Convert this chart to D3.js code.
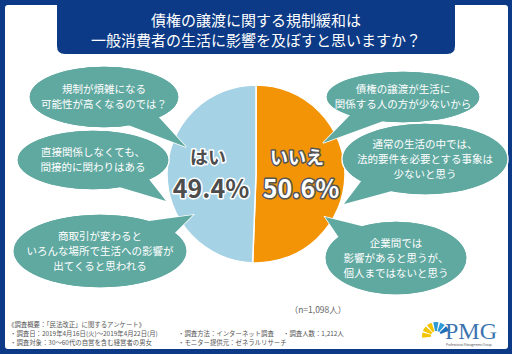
<!DOCTYPE html>
<html lang="ja">
<head>
<meta charset="UTF-8">
<title>pie</title>
<script src="https://cdn.jsdelivr.net/npm/d3@7"></script>
<style>
  body { margin: 0; background: #fff; }
  text { font-family: "Noto Sans CJK JP", "Noto Sans", sans-serif; }
</style>
</head>
<body>
<svg width="512" height="354"></svg>
<script>
    // データ
    var categories = ["はい", "いいえ"];
    var values = [49.4, 50.6];
    var colors = ["#a5d2e5", "#f39406"];

    var titleLines = ["債権の譲渡に関する規制緩和は", "一般消費者の生活に影響を及ぼすと思いますか？"];

    // 吹き出し (左: はい, 右: いいえ)
    var leftComments = [
        ["規制が煩雑になる", "可能性が高くなるのでは？"],
        ["直接関係しなくても、", "間接的に関わりはある"],
        ["商取引が変わると", "いろんな場所で生活への影響が", "出てくると思われる"]
    ];
    var rightComments = [
        ["債権の譲渡が生活に", "関係する人の方が少ないから"],
        ["通常の生活の中では、", "法的要件を必要とする事象は", "少ないと思う"],
        ["企業間では", "影響があると思うが、", "個人まではないと思う"]
    ];

    var sampleNote = "（n=1,098人）";
    var footerLines = [
        [["《調査概要：「民法改正」に関するアンケート》", 8]],
        [["・調査日：2019年4月16日(火)～2019年4月22日(月)", 10], ["・調査方法：インターネット調査", 178], ["・調査人数：1,212人", 283]],
        [["・調査対象：30～60代の自営を含む経営者の男女", 10], ["・モニター提供元：ゼネラルリサーチ", 178]]
    ];

    var navy = "#0c3a86";
    var teal = "#5fa9a1";

    var svg = d3.select("svg");
    var width = +svg.attr("width");
    var height = +svg.attr("height");

    // 枠
    svg.append("rect").attr("width", width).attr("height", height).attr("fill", navy);
    svg.append("rect").attr("x", 5).attr("y", 5).attr("width", width - 9).attr("height", height - 10)
        .attr("rx", 3).attr("fill", "#fff");

    // タイトル
    svg.append("path")
        .attr("d", "M57,0 H455 V46 Q455,54 447,54 H65 Q57,54 57,46 Z")
        .attr("fill", navy);
    svg.selectAll(".title").data(titleLines).enter().append("text")
        .attr("x", 256).attr("y", function (d, i) { return 26 + i * 20; })
        .attr("text-anchor", "middle").attr("fill", "#fff")
        .attr("font-size", 15)
        .text(function (d) { return d; });

    // 円グラフ
    var cx = 256, cy = 174, r = 89;
    var pie = d3.pie().sort(null).value(function (d) { return d; })
        .startAngle(0).endAngle(2 * Math.PI);
    // いいえを時計回りに先に描く
    var arcs = pie([values[1], values[0]]);
    var arc = d3.arc().innerRadius(0).outerRadius(r);
    var pg = svg.append("g").attr("transform", "translate(" + cx + "," + cy + ")");
    pg.selectAll("path").data(arcs).enter().append("path")
        .attr("d", arc)
        .attr("fill", function (d, i) { return i === 0 ? colors[1] : colors[0]; })
        .attr("stroke", "#fff").attr("stroke-width", 1.5);

    // 吹き出し
    function bubble(lines, c, rx, ry, tip, fs) {
        var g = svg.append("g");
        var a = Math.atan2((tip[1] - c[1]) / ry, (tip[0] - c[0]) / rx);
        var p1 = [c[0] + rx * Math.cos(a - 0.28) * 0.92, c[1] + ry * Math.sin(a - 0.28) * 0.92];
        var p2 = [c[0] + rx * Math.cos(a + 0.28) * 0.92, c[1] + ry * Math.sin(a + 0.28) * 0.92];
        var tail = "M" + p1 + " Q" + [(p1[0] + tip[0]) / 2, (p1[1] + tip[1]) / 2] + " " + tip +
            " Q" + [(p2[0] + tip[0]) / 2, (p2[1] + tip[1]) / 2] + " " + p2 + " Z";
        g.append("ellipse").attr("cx", c[0]).attr("cy", c[1]).attr("rx", rx).attr("ry", ry)
            .attr("fill", teal).attr("stroke", "#fff").attr("stroke-width", 1.5);
        g.append("path").attr("d", tail).attr("fill", teal).attr("stroke", "#fff").attr("stroke-width", 1.5);
        g.append("ellipse").attr("cx", c[0]).attr("cy", c[1]).attr("rx", rx - 0.7).attr("ry", ry - 0.7)
            .attr("fill", teal);
        g.append("path").attr("d", tail).attr("fill", teal);
        var lh = fs * 1.45;
        g.selectAll("text").data(lines).enter().append("text")
            .attr("x", c[0])
            .attr("y", function (d, i) { return c[1] + (i - (lines.length - 1) / 2) * lh + fs * 0.36; })
            .attr("text-anchor", "middle").attr("fill", "#fff").attr("font-size", fs)
            .text(function (d) { return d; });
    }

    bubble(leftComments[0], [104, 97], 75, 31, [186, 147], 10.5);
    bubble(leftComments[1], [93, 160], 76, 30, [166, 201], 10.5);
    bubble(leftComments[2], [100, 251], 87, 37, [193, 215], 10.5);
    bubble(rightComments[0], [403, 97], 77, 26, [323, 143], 10.5);
    bubble(rightComments[1], [425, 159], 83, 36, [344, 204], 10.5);
    bubble(rightComments[2], [396, 258], 71, 37, [325, 217], 10.5);

    // ラベル
    var labelPos = [[208, 211], [297, 301]];
    categories.forEach(function (c, i) {
        var fill = i === 0 ? "#4d4d4d" : "#fff";
        var stroke = i === 0 ? "#fff" : "#555";
        svg.append("text").attr("x", labelPos[i][0]).attr("y", 164)
            .attr("text-anchor", "middle").attr("font-size", 18).attr("font-weight", "bold")
            .attr("fill", fill).attr("stroke", stroke).attr("stroke-width", 3)
            .attr("paint-order", "stroke").attr("stroke-linejoin", "round")
            .text(c);
        svg.append("text").attr("x", labelPos[i][1]).attr("y", 198)
            .attr("text-anchor", "middle").attr("font-size", 25).attr("font-weight", "bold")
            .attr("fill", fill).attr("stroke", stroke).attr("stroke-width", 3)
            .attr("paint-order", "stroke").attr("stroke-linejoin", "round")
            .text(d3.format(".1f")(values[i]) + "%");
    });

    svg.append("text").attr("x", 318).attr("y", 313).attr("text-anchor", "middle")
        .attr("font-size", 8.5).attr("fill", "#666").text(sampleNote);

    // 調査概要
    footerLines.forEach(function (line, i) {
        line.forEach(function (t) {
            svg.append("text").attr("x", t[1]).attr("y", 327 + i * 9)
                .attr("font-size", 6.4).attr("fill", "#555").text(t[0]);
        });
    });

    // PMG ロゴ
    var logo = svg.append("g").attr("transform", "translate(436,336)");
    var fan = d3.arc().innerRadius(5).outerRadius(14);
    var fanColors = ["#f5c400", "#f5c400", "#f5c400", "#2f9bd6", "#2f9bd6", "#1f6fb8"];
    fanColors.forEach(function (col, i) {
        logo.append("path")
            .attr("d", fan({ startAngle: -1.7 + i * 0.5, endAngle: -1.7 + i * 0.5 + 0.38 }))
            .attr("fill", col);
    });
    svg.append("text").attr("x", 445).attr("y", 339)
        .style("font-family", "'Liberation Serif', 'DejaVu Serif', serif").style("font-size", "24px")
        .attr("fill", "#3d73b0").text("PMG");
    svg.append("text").attr("x", 446).attr("y", 345.5).style("font-size", "3px")
        .attr("fill", "#555").text("Professional Management Group");
</script>
</body>
</html>
